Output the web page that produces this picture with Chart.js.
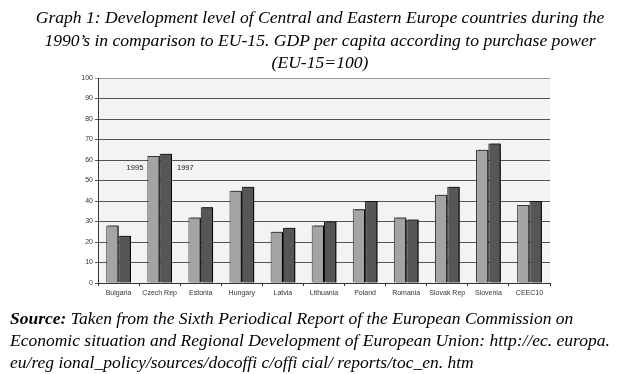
<!DOCTYPE html>
<html>
<head>
<meta charset="utf-8">
<script src="https://cdn.jsdelivr.net/npm/chart.js@4/dist/chart.umd.min.js"></script>
<style>
  html, body { margin: 0; padding: 0; background: #fff; }
  #wrap { position: relative; width: 640px; height: 374px; overflow: hidden; }
  #chart { position: absolute; left: 0; top: 0; }
  .title {
    position: absolute; left: 0; top: 6px; width: 640px; text-align: center;
    font-family: "Liberation Serif", "DejaVu Serif", serif; font-style: italic;
    font-size: 17.6px; line-height: 22.5px; color: #000; white-space: nowrap;
  }
  .source {
    position: absolute; left: 10px; top: 307px; width: 630px;
    font-family: "Liberation Serif", "DejaVu Serif", serif; font-style: italic;
    font-size: 17.5px; line-height: 22px; color: #000; white-space: nowrap;
  }
</style>
</head>
<body>
<div id="wrap">
  <canvas id="chart" width="640" height="374"></canvas>
  <div class="title">Graph 1: Development level of Central and Eastern Europe countries during the<br>1990’s in comparison to EU-15. GDP per capita according to purchase power<br>(EU-15=100)</div>
  <div class="source"><b>Source:</b> Taken from the Sixth Periodical Report of the European Commission on<br>Economic situation and Regional Development of European Union: http://ec. europa.<br>eu/reg ional_policy/sources/docoffi c/offi cial/ reports/toc_en. htm</div>
</div>
<script>
const countries = ["Bulgaria", "Czech Rep", "Estonia", "Hungary", "Latvia", "Lithuania",
  "Poland", "Romania", "Slovak Rep", "Slovenia", "CEEC10"];
const gdp1995 = [28, 62, 32, 45, 25, 28, 36, 32, 43, 65, 38];
const gdp1997 = [23, 63, 37, 47, 27, 30, 40, 31, 47, 68, 40];

const tickFont = { family: "Arial, 'Liberation Sans', sans-serif", size: 7 };

// grey plot area
const plotBg = {
  id: "plotBg",
  beforeDraw(chart) {
    const { ctx, chartArea: a } = chart;
    ctx.save();
    ctx.fillStyle = "#f3f3f3";
    ctx.fillRect(a.left, a.top, a.right - a.left, a.bottom - a.top);
    ctx.restore();
  },
};

// dark shadow on the right of each bar
const barShadow = {
  id: "barShadow",
  beforeDatasetsDraw(chart) {
    const ctx = chart.ctx;
    ctx.save();
    ctx.shadowColor = "#000";
    ctx.shadowOffsetX = 2;
    ctx.shadowOffsetY = 0;
    ctx.shadowBlur = 0;
  },
  afterDatasetsDraw(chart) {
    chart.ctx.restore();
  },
};

// the "1995" / "1997" labels beside the Czech Rep bars
const yearLabels = {
  id: "yearLabels",
  afterDatasetsDraw(chart) {
    const ctx = chart.ctx;
    const y = chart.scales.y.getPixelForValue(56);
    const b0 = chart.getDatasetMeta(0).data[1];
    const b1 = chart.getDatasetMeta(1).data[1];
    ctx.save();
    ctx.font = "7.5px Arial, 'Liberation Sans', sans-serif";
    ctx.fillStyle = "#222";
    ctx.textBaseline = "middle";
    ctx.textAlign = "right";
    ctx.fillText(chart.data.datasets[0].label, b0.x - b0.width / 2 - 4, y);
    ctx.textAlign = "left";
    ctx.fillText(chart.data.datasets[1].label, b1.x + b1.width / 2 + 5, y);
    ctx.restore();
  },
};

window.onload = function () {
  const ctx = document.getElementById("chart").getContext("2d");
  new Chart(ctx, {
    type: "bar",
    data: {
      labels: countries,
      datasets: [
        {
          label: "1995",
          data: gdp1995,
          backgroundColor: "#a4a4a4",
          borderColor: "#333",
          borderWidth: 1,
        },
        {
          label: "1997",
          data: gdp1997,
          backgroundColor: "#565656",
          borderColor: "#111",
          borderWidth: 1,
        },
      ],
    },
    options: {
      responsive: false,
      animation: false,
      layout: { padding: { left: 60, right: 90, top: 78, bottom: 0 } },
      datasets: { bar: { categoryPercentage: 0.6, barPercentage: 1 } },
      plugins: {
        legend: { display: false },
        tooltip: { enabled: false },
      },
      scales: {
        x: {
          afterFit: (s) => { s.height = 91; },
          grid: { display: true, drawOnChartArea: false, color: "#333", tickLength: 3, offset: true },
          border: { color: "#333", width: 1 },
          ticks: { font: tickFont, color: "#333", padding: 3, maxRotation: 0, autoSkip: false },
        },
        y: {
          min: 0,
          max: 100,
          afterFit: (s) => { s.width = 38; },
          grid: { color: (c) => (c.tick.value === 100 ? "#999" : "#555"), lineWidth: 1, tickLength: 3 },
          border: { color: "#333", width: 1 },
          ticks: { stepSize: 10, font: tickFont, color: "#333", padding: 2 },
        },
      },
    },
    plugins: [plotBg, barShadow, yearLabels],
  });
};
</script>
</body>
</html>
